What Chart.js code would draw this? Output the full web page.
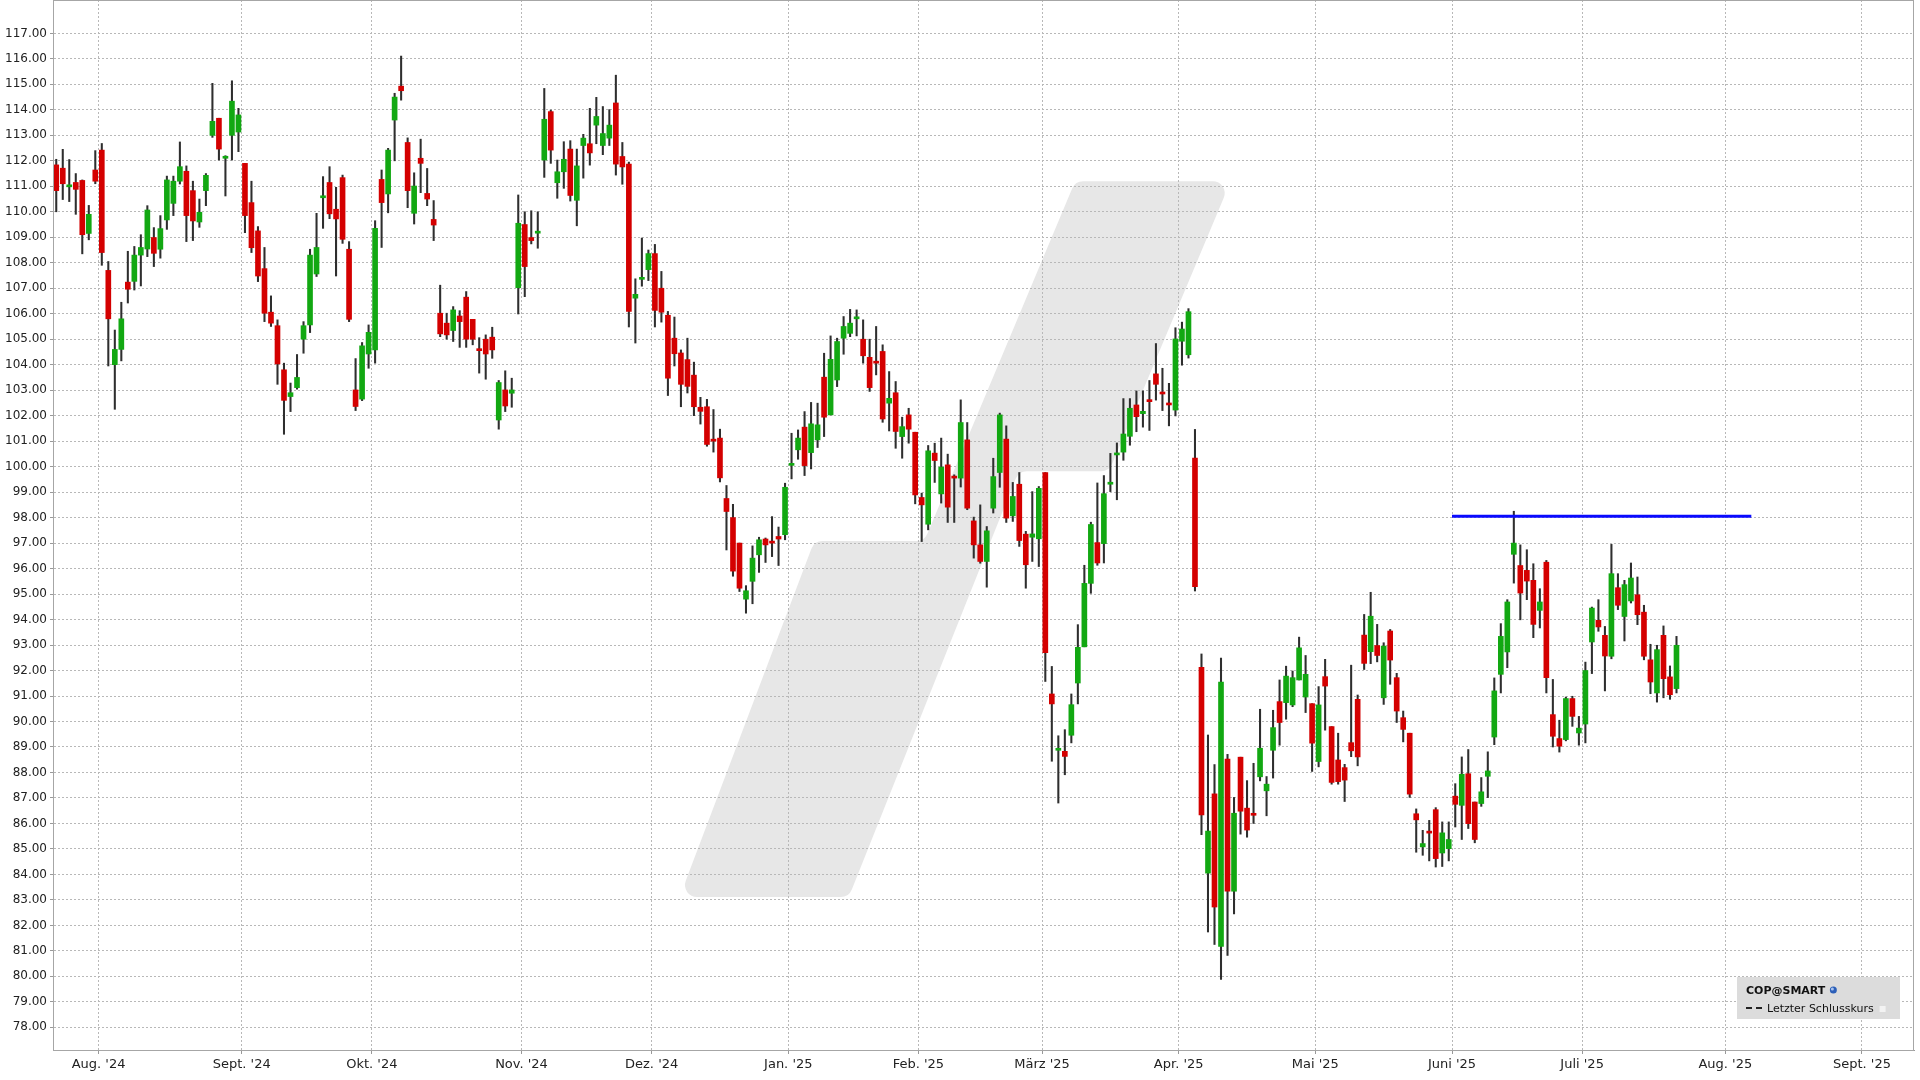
<!DOCTYPE html>
<html lang="de">
<head>
<meta charset="utf-8">
<title>COP@SMART</title>
<script src="https://cdn.jsdelivr.net/npm/chart.js@4.4.1/dist/chart.umd.min.js"></script>
<style>
  html, body { margin: 0; padding: 0; background: #fff; }
  #chart { display: block; }
</style>
</head>
<body>
<canvas id="chart" width="1920" height="1080"></canvas>
<script>
// one candle per trading day, 23.07.2024 - 22.07.2025
const openPrices = [
  111.84, 111.71, 110.98, 111.15, 111.23, 109.15, 111.64, 112.42, 107.70, 104.00,
  104.60, 107.24, 107.27, 108.30, 108.54, 108.99, 108.53, 109.68, 110.33, 111.20,
  111.59, 110.83, 109.60, 110.83, 113.00, 113.67, 112.10, 113.00, 113.13, 111.90,
  110.36, 109.25, 107.77, 106.06, 105.53, 103.80, 102.75, 103.10, 105.00, 105.56,
  107.56, 110.55, 111.15, 110.10, 111.34, 108.53, 103.01, 102.65, 104.42, 104.58,
  111.27, 110.70, 113.60, 114.93, 112.72, 109.94, 112.10, 110.72, 109.70, 106.02,
  105.63, 105.34, 105.91, 106.65, 105.78, 104.60, 105.00, 105.08, 101.83, 103.01,
  102.88, 107.02, 109.50, 108.99, 109.16, 112.03, 113.93, 111.14, 111.57, 112.46,
  110.45, 112.60, 112.67, 113.40, 112.60, 112.89, 114.27, 112.17, 111.87, 106.61,
  107.35, 107.73, 108.36, 107.00, 105.94, 105.04, 104.46, 104.20, 103.59, 102.33,
  102.35, 101.05, 101.12, 98.75, 98.00, 97.00, 94.80, 95.50, 96.54, 97.16,
  97.05, 97.26, 97.33, 100.05, 100.66, 101.55, 100.55, 101.05, 103.51, 102.03,
  103.40, 105.04, 105.23, 105.80, 105.00, 104.29, 104.12, 104.52, 102.49, 102.90,
  101.18, 102.03, 101.35, 98.79, 97.74, 100.53, 98.93, 100.07, 99.62, 99.55,
  101.05, 97.87, 96.93, 96.28, 98.37, 99.77, 101.08, 98.07, 99.31, 97.35,
  97.23, 97.17, 99.77, 91.08, 88.87, 88.83, 89.46, 91.51, 92.93, 95.42,
  97.02, 96.98, 99.31, 100.46, 100.57, 101.19, 102.42, 102.08, 102.60, 103.64,
  102.90, 102.46, 102.22, 104.92, 104.39, 100.34, 92.13, 84.05, 87.16, 81.17,
  88.53, 83.34, 88.60, 86.60, 86.36, 87.83, 87.28, 88.87, 90.78, 90.74,
  90.65, 91.63, 90.96, 90.70, 88.43, 91.76, 89.80, 88.49, 88.19, 89.17,
  90.87, 93.39, 92.74, 92.98, 90.93, 93.55, 91.72, 90.15, 89.54, 86.38,
  85.08, 85.66, 86.54, 84.84, 85.01, 87.07, 86.71, 87.95, 86.84, 86.78,
  87.85, 89.39, 91.85, 92.73, 96.56, 96.12, 95.93, 95.54, 94.36, 96.25,
  90.27, 89.33, 89.29, 90.90, 89.55, 89.90, 93.12, 93.97, 93.38, 92.56,
  95.25, 94.12, 94.73, 94.97, 94.29, 92.42, 91.12, 93.38, 91.75, 91.29
];
const highPrices = [
  112.06, 112.45, 112.05, 111.50, 111.25, 110.25, 112.40, 112.68, 108.05, 105.36,
  106.45, 108.45, 108.64, 109.10, 110.24, 109.38, 109.85, 111.40, 111.40, 112.74,
  111.80, 111.20, 110.50, 111.50, 115.04, 113.67, 112.20, 115.14, 114.06, 111.90,
  111.20, 109.42, 108.60, 106.70, 105.76, 104.06, 103.28, 104.40, 105.69, 108.53,
  109.94, 111.38, 111.77, 110.96, 111.44, 108.83, 104.24, 104.87, 105.56, 109.65,
  111.64, 112.49, 114.65, 116.11, 112.90, 111.53, 112.85, 111.70, 110.44, 107.12,
  106.02, 106.28, 106.12, 106.87, 105.78, 105.06, 105.17, 105.47, 103.38, 103.76,
  103.47, 110.66, 110.00, 110.04, 110.00, 114.84, 113.99, 112.03, 112.75, 112.79,
  112.46, 113.04, 114.06, 114.49, 114.13, 114.01, 115.36, 112.72, 111.95, 107.37,
  108.97, 108.50, 108.72, 107.66, 106.09, 105.87, 104.58, 105.04, 104.10, 102.72,
  102.64, 102.24, 101.47, 99.26, 98.52, 97.00, 95.33, 96.89, 97.23, 97.20,
  98.04, 97.63, 99.35, 101.31, 101.44, 102.16, 102.52, 102.49, 104.45, 105.13,
  105.04, 105.89, 106.17, 106.15, 105.76, 105.00, 105.50, 104.78, 103.73, 103.34,
  101.94, 102.29, 101.35, 98.96, 100.83, 100.92, 101.12, 100.49, 99.68, 102.62,
  101.73, 98.02, 98.50, 97.65, 100.33, 102.10, 101.60, 99.38, 99.77, 97.46,
  99.02, 99.22, 99.77, 92.16, 89.44, 89.68, 91.08, 93.80, 96.13, 97.82,
  99.36, 99.65, 100.52, 100.93, 102.67, 102.67, 102.97, 102.97, 103.38, 104.83,
  103.86, 103.27, 105.45, 105.67, 106.20, 101.46, 92.65, 89.47, 88.31, 92.49,
  88.71, 87.02, 88.60, 87.68, 88.36, 90.48, 87.84, 90.44, 91.63, 92.17,
  91.98, 93.31, 92.59, 90.70, 91.37, 92.44, 89.80, 89.54, 88.32, 92.21,
  91.04, 94.20, 95.07, 93.81, 93.09, 93.61, 91.89, 90.41, 89.54, 86.57,
  85.73, 86.12, 86.62, 86.06, 86.06, 87.56, 88.61, 88.90, 86.84, 87.80,
  88.81, 91.71, 93.84, 94.78, 98.25, 96.93, 96.74, 96.19, 95.21, 96.32,
  91.65, 90.05, 90.96, 90.99, 90.20, 92.33, 94.49, 94.78, 93.73, 96.95,
  95.80, 95.54, 96.22, 95.67, 94.56, 93.03, 92.99, 93.75, 92.18, 93.34
];
const lowPrices = [
  110.00, 110.48, 110.40, 109.90, 108.35, 108.90, 111.10, 107.90, 103.95, 102.25,
  104.15, 106.42, 106.93, 107.09, 108.24, 107.85, 108.18, 109.31, 109.85, 111.09,
  108.83, 108.87, 109.39, 110.24, 112.92, 112.03, 110.62, 112.03, 112.36, 109.18,
  108.40, 107.26, 105.69, 105.50, 103.23, 101.27, 102.16, 103.04, 104.45, 105.26,
  107.46, 109.35, 109.73, 107.48, 108.76, 105.69, 102.20, 102.59, 103.86, 104.06,
  108.60, 109.96, 112.00, 114.38, 110.16, 109.52, 110.75, 110.24, 108.87, 105.10,
  105.00, 104.91, 104.68, 104.68, 104.78, 103.67, 103.43, 104.25, 101.47, 102.16,
  102.33, 105.99, 106.67, 108.74, 108.57, 111.35, 111.90, 110.53, 110.92, 110.42,
  109.45, 111.32, 111.83, 112.67, 112.24, 112.60, 111.44, 111.08, 105.48, 104.85,
  107.08, 107.30, 105.48, 105.67, 102.79, 103.95, 102.35, 102.89, 102.00, 101.67,
  100.80, 100.57, 99.40, 96.73, 95.70, 95.10, 94.25, 94.62, 95.85, 96.24,
  96.47, 96.12, 97.13, 99.52, 100.29, 99.65, 99.91, 100.75, 101.18, 102.03,
  103.14, 104.41, 105.10, 105.13, 104.06, 102.95, 103.60, 101.74, 101.40, 100.72,
  100.33, 100.92, 98.54, 97.06, 97.52, 99.38, 98.57, 97.81, 97.81, 99.20,
  98.31, 96.41, 96.21, 95.27, 98.18, 99.19, 97.81, 97.85, 96.87, 95.23,
  96.28, 96.08, 91.57, 88.44, 86.80, 87.91, 89.16, 90.69, 92.93, 95.03,
  96.13, 96.22, 99.02, 98.70, 100.25, 100.84, 101.37, 101.55, 101.42, 102.61,
  102.20, 101.60, 101.99, 103.98, 104.26, 95.12, 85.56, 81.74, 81.25, 79.88,
  80.82, 82.45, 85.58, 85.46, 86.00, 87.67, 86.30, 87.78, 89.07, 90.09,
  90.58, 91.63, 90.35, 88.04, 88.22, 89.66, 87.54, 87.54, 86.86, 88.62,
  88.26, 92.04, 92.27, 92.34, 90.67, 91.46, 89.96, 89.20, 87.02, 84.87,
  84.75, 84.53, 84.29, 84.31, 84.53, 85.86, 85.37, 85.80, 85.24, 86.67,
  87.01, 89.09, 91.12, 92.11, 95.43, 93.99, 94.78, 93.29, 93.67, 91.12,
  89.00, 88.80, 89.24, 89.81, 89.07, 89.16, 91.88, 93.54, 91.20, 92.46,
  94.39, 93.16, 94.65, 93.80, 92.42, 91.09, 90.76, 90.93, 90.87, 91.12
];
const closePrices = [
  110.83, 111.10, 111.02, 110.88, 109.10, 109.90, 111.20, 108.40, 105.80, 104.60,
  105.80, 106.96, 108.30, 108.60, 110.07, 108.37, 109.34, 111.25, 111.20, 111.77,
  109.85, 109.64, 109.98, 111.43, 113.55, 112.46, 112.15, 114.34, 113.80, 109.85,
  108.59, 107.48, 106.02, 105.63, 104.03, 102.60, 102.90, 103.50, 105.53, 108.30,
  108.60, 110.60, 109.92, 109.72, 108.92, 105.78, 102.36, 104.74, 105.27, 109.35,
  110.36, 112.42, 114.50, 114.75, 110.83, 111.01, 111.90, 110.50, 109.48, 105.21,
  105.17, 106.15, 105.69, 105.00, 105.00, 104.55, 104.42, 104.58, 103.30, 102.38,
  103.01, 109.55, 107.85, 108.87, 109.20, 113.63, 112.42, 111.57, 112.06, 110.64,
  111.80, 112.89, 112.31, 113.74, 113.07, 113.40, 111.87, 111.76, 106.09, 106.76,
  107.40, 108.36, 106.13, 106.06, 103.47, 104.43, 103.23, 103.15, 102.35, 102.17,
  100.87, 101.00, 99.56, 98.24, 95.90, 95.23, 95.13, 96.41, 97.13, 96.93,
  97.00, 97.16, 99.19, 100.07, 101.12, 100.04, 101.68, 101.64, 101.94, 104.21,
  104.91, 105.50, 105.63, 105.84, 104.35, 103.10, 104.06, 101.87, 102.68, 101.38,
  101.57, 101.47, 98.89, 98.50, 100.62, 100.24, 99.98, 98.41, 99.55, 101.73,
  98.37, 96.93, 96.28, 97.48, 99.61, 102.03, 97.98, 98.83, 97.10, 96.15,
  97.36, 99.15, 92.70, 90.69, 88.92, 88.63, 90.66, 92.91, 95.42, 97.73,
  96.22, 98.94, 99.35, 100.50, 101.28, 102.29, 101.96, 102.17, 102.55, 103.23,
  102.85, 102.42, 105.01, 105.40, 106.08, 95.29, 86.33, 85.70, 82.72, 91.55,
  83.34, 86.40, 86.48, 85.74, 86.32, 88.95, 87.54, 89.76, 89.96, 91.78,
  91.72, 92.89, 91.85, 89.15, 90.65, 91.39, 87.61, 87.64, 87.70, 88.85,
  88.61, 92.28, 94.13, 92.59, 92.96, 92.41, 90.41, 89.69, 87.15, 86.14,
  85.21, 85.62, 84.62, 85.63, 85.37, 86.75, 87.93, 85.99, 85.37, 87.24,
  88.06, 91.20, 93.34, 94.69, 97.00, 95.04, 95.51, 93.81, 94.69, 91.72,
  89.42, 89.03, 90.90, 90.20, 89.74, 92.00, 94.45, 93.71, 92.57, 95.80,
  94.56, 95.37, 95.63, 94.19, 92.56, 91.55, 92.82, 91.68, 91.05, 92.99
];

// month boundaries (in trading-day slots) and their labels
const monthTicks = [6.5, 28.5, 48.5, 71.5, 91.5, 112.5, 132.5, 151.5, 172.5, 193.5, 214.5, 234.5, 256.5, 277.5];
const monthLabels = ["Aug. '24", "Sept. '24", "Okt. '24", "Nov. '24", "Dez. '24", "Jan. '25", "Feb. '25",
  "März '25", "Apr. '25", "Mai '25", "Juni '25", "Juli '25", "Aug. '25", "Sept. '25"];
const yTicks = [78, 79, 80, 81, 82, 83, 84, 85, 86, 87, 88, 89, 90, 91, 92, 93, 94, 95, 96, 97,
  98, 99, 100, 101, 102, 103, 104, 105, 106, 107, 108, 109, 110, 111, 112, 113, 114, 115, 116, 117];

// horizontal marker line
const lineX = [214.5, 260.5];
const lineY = [98.05, 98.05];

// background logo outline in chart units
const logoX = [156.6, 180.5, 161.8, 147.9, 121.8, 95.8, 116.5, 133.4];
const logoY = [111.2, 111.2, 99.82, 99.82, 83.11, 83.11, 97.08, 97.08];

const green = "#12a812";
const red = "#d40000";
const wickColor = "#2e2e2e";
const fontFamily = "'DejaVu Sans', Verdana, sans-serif";

const isUp = (i) => closePrices[i] >= openPrices[i];
const bodies = openPrices.map((o, i) => ({ x: i, y: [o, closePrices[i]] }));
const wicks = lowPrices.map((l, i) => ({ x: i, y: [l, highPrices[i]] }));

function roundedPoly(ctx, pts, r) {
  const n = pts.length;
  const last = pts[n - 1];
  ctx.beginPath();
  ctx.moveTo((last.x + pts[0].x) / 2, (last.y + pts[0].y) / 2);
  for (let i = 0; i < n; i++) {
    const p = pts[i];
    const q = pts[(i + 1) % n];
    ctx.arcTo(p.x, p.y, q.x, q.y, r);
  }
  ctx.closePath();
}

const background = {
  id: "background",
  beforeDraw(chart) {
    const { ctx } = chart;
    const x = chart.scales.x;
    const y = chart.scales.y;
    ctx.save();
    ctx.fillStyle = "#ffffff";
    ctx.fillRect(0, 0, chart.width, chart.height);
    const pts = logoX.map((v, i) => ({ x: x.getPixelForValue(v), y: y.getPixelForValue(logoY[i]) }));
    roundedPoly(ctx, pts, 12);
    ctx.fillStyle = "#e7e7e7";
    ctx.fill();
    ctx.restore();
  },
};

const frameAndLegend = {
  id: "frameAndLegend",
  afterDraw(chart) {
    const { ctx, chartArea: a } = chart;
    ctx.save();
    ctx.strokeStyle = "#a6a6a6";
    ctx.lineWidth = 1;
    ctx.strokeRect(a.left + 0.5, a.top + 0.5, a.right - a.left - 1, a.bottom - a.top);

    // legend box
    const w = 163;
    const h = 42;
    const bx = a.right - 14 - w;
    const by = a.bottom - 31 - h;
    ctx.fillStyle = "#dcdcdc";
    ctx.fillRect(bx, by, w, h);

    ctx.fillStyle = "#111";
    ctx.font = "bold 11px " + fontFamily;
    ctx.textBaseline = "alphabetic";
    ctx.fillText("COP@SMART", bx + 9, by + 17);
    const tw = ctx.measureText("COP@SMART").width;

    // small globe icon
    const gx = bx + 9 + tw + 8;
    const gy = by + 13;
    ctx.beginPath();
    ctx.arc(gx, gy, 3.5, 0, Math.PI * 2);
    ctx.fillStyle = "#2c5fb8";
    ctx.fill();
    ctx.beginPath();
    ctx.arc(gx - 1, gy - 1, 1.5, 0, Math.PI * 2);
    ctx.fillStyle = "#a9c4ef";
    ctx.fill();

    // dashed line sample
    ctx.strokeStyle = "#222";
    ctx.lineWidth = 2;
    ctx.beginPath();
    ctx.moveTo(bx + 9, by + 31);
    ctx.lineTo(bx + 15, by + 31);
    ctx.moveTo(bx + 19, by + 31);
    ctx.lineTo(bx + 25, by + 31);
    ctx.stroke();

    ctx.fillStyle = "#111";
    ctx.font = "11px " + fontFamily;
    ctx.fillText("Letzter Schlusskurs", bx + 30, by + 35);
    const tw2 = ctx.measureText("Letzter Schlusskurs").width;

    ctx.fillStyle = "#f3f3f3";
    ctx.fillRect(bx + 30 + tw2 + 6, by + 29, 6, 6);
    ctx.restore();
  },
};

const ctx = document.getElementById("chart");

new Chart(ctx, {
  type: "bar",
  data: {
    datasets: [
      {
        type: "line",
        data: lineX.map((v, i) => ({ x: v, y: lineY[i] })),
        borderColor: "#0a0aff",
        borderWidth: 3,
        pointRadius: 0,
        order: 0,
      },
      {
        data: bodies,
        backgroundColor: (c) => (isUp(c.dataIndex) ? green : red),
        barThickness: 5,
        minBarLength: 2,
        grouped: false,
        order: 1,
      },
      {
        data: wicks,
        backgroundColor: wickColor,
        barThickness: 1.4,
        grouped: false,
        order: 2,
      },
    ],
  },
  options: {
    responsive: false,
    animation: false,
    events: [],
    layout: {
      padding: { top: 0, right: 6, left: 0, bottom: 0 },
    },
    plugins: {
      legend: { display: false },
      tooltip: { enabled: false },
    },
    scales: {
      x: {
        type: "linear",
        min: -0.5,
        max: 285.5,
        offset: false,
        afterBuildTicks: (axis) => {
          axis.ticks = monthTicks.map((v) => ({ value: v }));
        },
        afterFit: (axis) => {
          axis.height = 30;
          axis.paddingLeft = 0;
          axis.paddingRight = 0;
        },
        grid: {
          offset: false,
          color: "#b8b8b8",
          tickLength: 4,
          tickColor: "#999",
        },
        border: { color: "#9a9a9a", dash: [2, 2] },
        ticks: {
          autoSkip: false,
          maxRotation: 0,
          padding: 3,
          color: "#222",
          font: { family: fontFamily, size: 13 },
          callback: (value, index) => monthLabels[index],
        },
      },
      y: {
        min: 77.11,
        max: 118.31,
        afterBuildTicks: (axis) => {
          axis.ticks = yTicks.map((v) => ({ value: v }));
        },
        afterFit: (axis) => {
          axis.width = 53;
          axis.paddingTop = 0;
          axis.paddingBottom = 0;
        },
        grid: {
          offset: false,
          color: "#b8b8b8",
          tickLength: 3,
          tickColor: "#999",
        },
        border: { color: "#9a9a9a", dash: [2, 2] },
        ticks: {
          padding: 3,
          color: "#222",
          font: { family: fontFamily, size: 12 },
          callback: (value) => Number(value).toFixed(2),
        },
      },
    },
  },
  plugins: [background, frameAndLegend],
});
</script>
</body>
</html>
